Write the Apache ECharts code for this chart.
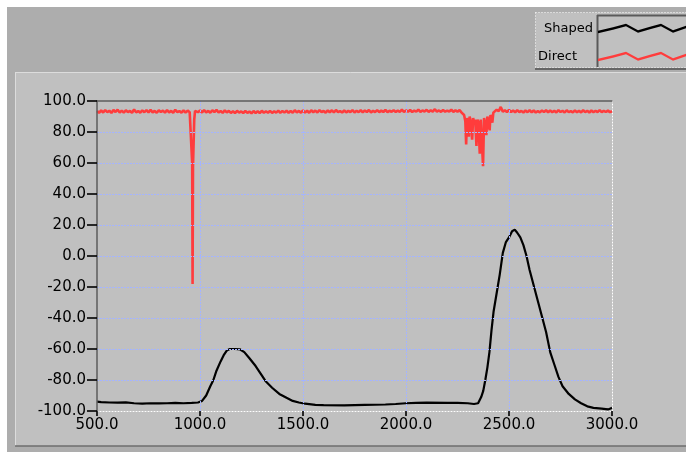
<!DOCTYPE html>
<html>
<head>
<meta charset="utf-8">
<script src="https://cdn.jsdelivr.net/npm/echarts@6/dist/echarts.min.js"></script>
<style>
html,body{margin:0;padding:0;background:#fff;}
#chart{width:686px;height:452px;}
</style>
</head>
<body>
<div id="chart"></div>
<script>
// ---- Data ----
var seriesNames = ['Shaped', 'Direct'];
var xTicks = [500, 1000, 1500, 2000, 2500, 3000];
var yTicks = [-100, -80, -60, -40, -20, 0, 20, 40, 60, 80, 100];

var shapedPoints = [
  [500,-94.0],[520,-94.3],[560,-94.5],[600,-94.6],[640,-94.4],[680,-95.0],[720,-95.2],
  [760,-95.0],[800,-95.1],[840,-95.0],[880,-94.8],[920,-95.0],[960,-94.8],[990,-94.5],
  [1010,-93.5],[1030,-90],[1050,-84],[1065,-80],[1080,-74],[1100,-68],[1115,-64],
  [1130,-61],[1145,-60],[1170,-60],[1195,-60.3],[1215,-62],[1240,-66],[1270,-71],
  [1300,-77],[1320,-81],[1350,-85],[1385,-89],[1420,-91.5],[1450,-93.5],[1480,-94.5],
  [1510,-95.3],[1560,-96],[1600,-96.2],[1700,-96.4],[1800,-96],[1900,-95.8],[1950,-95.5],
  [2000,-95],[2050,-94.8],[2100,-94.6],[2200,-94.7],[2250,-94.7],[2300,-95],[2330,-95.5],
  [2350,-95],[2365,-91],[2375,-87],[2385,-80],[2395,-72],[2405,-62],[2415,-48],[2425,-36],
  [2440,-24],[2455,-12],[2470,2],[2485,9],[2500,12],[2515,16],[2528,17],[2540,15],
  [2555,12],[2570,7],[2585,0],[2600,-9],[2620,-19],[2640,-29],[2660,-39],[2680,-49],
  [2700,-62],[2720,-70],[2740,-78],[2760,-84],[2790,-89],[2820,-92.5],[2850,-95],
  [2880,-97],[2910,-98],[2950,-98.5],[2980,-99],[2990,-98.5],[3000,-98]
];

var directPoints = [
  [500,93.6],[510,92.4],[520,93.9],[530,92.6],[540,94.1],[550,92.8],[560,93.7],[570,92.3],
  [580,94.2],[590,92.9],[600,94.4],[610,92.6],[620,93.8],[630,92.5],[640,94.0],[650,92.8],
  [660,93.6],[670,92.4],[680,94.5],[690,92.7],[700,93.5],[710,92.5],[720,93.9],[730,92.8],
  [740,94.1],[750,92.6],[760,94.3],[770,92.7],[780,93.6],[790,92.4],[800,94.0],[810,92.9],
  [820,93.8],[830,92.5],[840,94.2],[850,92.7],[860,93.6],[870,92.4],[880,94.3],[890,92.8],
  [900,93.5],[910,92.5],[920,93.9],[930,92.6],[940,93.8],[950,92.7],
  [958,92.8],[962,60],[964,-18],[966,57.5],[969,58],[972,88],[976,93.6],
  [980,94.6],[990,92.8],[1000,93.9],[1010,92.6],[1020,94.1],[1030,92.7],[1040,93.6],
  [1050,92.5],[1060,94.0],[1070,92.8],[1080,94.3],[1090,92.6],[1100,93.5],[1110,92.4],
  [1120,93.9],[1130,92.7],[1140,93.6],[1150,92.3],[1160,93.4],[1170,92.2],[1180,93.7],
  [1190,92.5],[1200,93.3],[1210,92.2],[1220,93.6],[1230,92.4],[1240,93.2],[1250,92.1],
  [1260,93.5],[1270,92.3],[1280,93.4],[1290,92.2],[1300,93.7],[1310,92.4],[1320,93.3],
  [1330,92.5],[1340,93.6],[1350,92.3],[1360,93.4],[1370,92.5],[1380,93.8],[1390,92.4],
  [1400,93.5],[1410,92.6],[1420,93.7],[1430,92.4],[1440,93.6],[1450,92.5],[1460,94.0],
  [1470,92.7],[1480,93.6],[1490,92.5],[1500,93.9],[1510,92.6],[1520,93.7],[1530,92.4],
  [1540,94.0],[1550,92.7],[1560,93.8],[1570,92.6],[1580,94.1],[1590,92.8],[1600,93.6],
  [1610,92.5],[1620,93.9],[1630,92.7],[1640,94.0],[1650,92.6],[1660,94.2],[1670,92.8],
  [1680,93.5],[1690,92.6],[1700,93.9],[1710,92.7],[1720,93.6],[1730,92.8],[1740,94.1],
  [1750,92.6],[1760,93.7],[1770,92.8],[1780,94.0],[1790,92.7],[1800,93.8],[1810,92.9],
  [1820,94.2],[1830,92.7],[1840,93.6],[1850,92.9],[1860,94.1],[1870,92.8],[1880,93.8],
  [1890,92.9],[1900,94.3],[1910,92.8],[1920,93.7],[1930,93.0],[1940,94.1],[1950,92.9],
  [1960,93.8],[1970,93.0],[1980,94.4],[1990,92.9],[2000,93.9],[2010,93.1],[2020,94.2],
  [2030,92.9],[2040,93.8],[2050,93.1],[2060,94.5],[2070,93.0],[2080,93.9],[2090,93.2],
  [2100,94.3],[2110,93.0],[2120,94.0],[2130,93.2],[2140,94.7],[2150,93.1],[2160,93.9],
  [2170,93.0],[2180,94.2],[2190,93.1],[2200,93.8],[2210,93.2],[2220,94.4],[2230,93.0],
  [2240,94.0],[2250,93.1],[2260,94.1],[2270,92.5],
  [2282,91],[2288,87],[2292,72],[2296,89],[2300,86],[2305,77],[2309,90],[2314,87],
  [2318,88],[2321,75],[2326,89],[2331,86],[2336,88],[2342,71],[2347,88],[2352,86],
  [2358,66],[2363,88],[2368,87],[2374,58],[2379,89],[2384,86],[2390,78],[2395,90],
  [2400,87],[2406,81],[2410,91],[2415,89],[2419,86],[2424,92.5],
  [2430,93.2],[2440,94.4],[2450,93.4],[2460,96.2],[2470,93.1],[2480,94.0],[2490,92.8],
  [2500,94.3],[2510,92.9],[2520,93.8],[2530,92.7],[2540,94.1],[2550,92.8],[2560,93.6],
  [2570,92.6],[2580,93.9],[2590,92.8],[2600,94.0],[2610,92.7],[2620,93.9],[2630,92.6],
  [2640,93.5],[2650,92.7],[2660,93.8],[2670,92.9],[2680,94.0],[2690,92.7],[2700,93.9],
  [2710,92.8],[2720,93.6],[2730,92.7],[2740,94.1],[2750,92.9],[2760,93.7],[2770,92.6],
  [2780,94.0],[2790,92.8],[2800,93.5],[2810,92.7],[2820,93.9],[2830,92.8],[2840,93.6],
  [2850,92.7],[2860,94.0],[2870,92.8],[2880,93.7],[2890,92.6],[2900,93.9],[2910,92.8],
  [2920,93.6],[2930,92.9],[2940,94.1],[2950,92.8],[2960,93.7],[2970,92.9],[2980,93.8],
  [2990,92.8],[3000,93.4]
];

// ---- Chart ----
var chart = echarts.init(document.getElementById('chart'), null, {renderer: 'canvas'});
var FONT = 'DejaVu Sans';
var zig = 'path://M0,8L15,4.5L28,1L40,7.5L52,4L63,1L75,7.5L88,3L88,5.5L75,10L63,3.5L52,6.5L40,10L28,3.5L15,7L0,10.5Z';

var xMin = xTicks[0], xMax = xTicks[xTicks.length - 1];
var yMin = yTicks[0], yMax = yTicks[yTicks.length - 1];
var gridLine = {show: true, showMinLine: false, showMaxLine: false,
  lineStyle: {color: '#a4b4ff', width: 1, type: [2, 1]}};

var option = {
  backgroundColor: '#ffffff',
  animation: false,
  graphic: [
    {type: 'rect', z: -10, shape: {x: 7, y: 7, width: 679, height: 445}, style: {fill: '#adadad'}},
    {type: 'rect', z: -10, shape: {x: 15, y: 72, width: 671, height: 374}, style: {fill: '#c0c0c0'}},
    {type: 'line', z: -10, shape: {x1: 15, y1: 72.5, x2: 686, y2: 72.5}, style: {stroke: '#dcdcdc', lineWidth: 1}},
    {type: 'line', z: -10, shape: {x1: 15.5, y1: 72, x2: 15.5, y2: 446}, style: {stroke: '#dcdcdc', lineWidth: 1}},
    {type: 'line', z: -10, shape: {x1: 15, y1: 446, x2: 686, y2: 446}, style: {stroke: '#6e6e6e', lineWidth: 1.5}},
    {type: 'rect', z: -10, shape: {x: 535.5, y: 12.5, width: 160, height: 55}, style: {fill: '#c0c0c0', stroke: '#ffffff', lineWidth: 1, lineDash: [1, 2]}},
    {type: 'line', z: -10, shape: {x1: 535, y1: 69, x2: 686, y2: 69}, style: {stroke: '#666666', lineWidth: 2}},
    {type: 'line', z: -10, shape: {x1: 597.5, y1: 15, x2: 597.5, y2: 67}, style: {stroke: '#5a5a5a', lineWidth: 2}},
    {type: 'line', z: -10, shape: {x1: 597, y1: 15.5, x2: 686, y2: 15.5}, style: {stroke: '#5a5a5a', lineWidth: 2}}
  ],
  legend: [
    {data: [seriesNames[0]], right: 0, top: 22, padding: 0, align: 'right', orient: 'vertical',
     icon: zig, itemWidth: 88, itemHeight: 9.5, selectedMode: false,
     itemStyle: {borderWidth: 0},
     textStyle: {fontFamily: FONT, fontSize: 13, color: '#000'}},
    {data: [seriesNames[1]], right: 0, top: 50, padding: 0, align: 'right', orient: 'vertical',
     icon: zig, itemWidth: 88, itemHeight: 9.5, selectedMode: false,
     itemStyle: {borderWidth: 0},
     textStyle: {fontFamily: FONT, fontSize: 13, color: '#000', padding: [0, 16, 0, 0]}}
  ],
  grid: {left: 97, right: 74, top: 101, bottom: 41, containLabel: false},
  xAxis: [
    {type: 'value', min: xMin, max: xMax, interval: 500, position: 'bottom', z: 5,
     axisLine: {show: true, onZero: false, lineStyle: {color: '#ffffff', width: 1, type: [1, 2]}},
     axisTick: {show: true, inside: false, length: 5, lineStyle: {color: '#000000', width: 1.6}},
     axisLabel: {margin: 7, fontFamily: FONT, fontSize: 15, color: '#000',
       formatter: function (v) { return v.toFixed(1); }},
     splitLine: gridLine},
    {type: 'value', min: xMin, max: xMax, interval: 500, position: 'top', z: 5,
     axisLine: {show: true, onZero: false, lineStyle: {color: '#5c5c5c', width: 1.5}},
     axisTick: {show: false}, axisLabel: {show: false}, splitLine: {show: false}}
  ],
  yAxis: [
    {type: 'value', min: yMin, max: yMax, interval: 20, position: 'left', z: 5,
     axisLine: {show: true, onZero: false, lineStyle: {color: '#5c5c5c', width: 1.5}},
     axisTick: {show: true, inside: false, length: 10, lineStyle: {color: '#000000', width: 1.6}},
     axisLabel: {margin: 11, fontFamily: FONT, fontSize: 15, color: '#000',
       formatter: function (v) { return v.toFixed(1); }},
     splitLine: gridLine},
    {type: 'value', min: yMin, max: yMax, interval: 20, position: 'right', z: 5,
     axisLine: {show: true, onZero: false, lineStyle: {color: '#ffffff', width: 1, type: [1, 2]}},
     axisTick: {show: false}, axisLabel: {show: false}, splitLine: {show: false}}
  ],
  series: [
    {name: seriesNames[0], type: 'line', xAxisIndex: 0, yAxisIndex: 0, data: shapedPoints,
     showSymbol: false, symbol: 'none', color: '#000000',
     lineStyle: {color: '#000000', width: 2.2}, z: 3},
    {name: seriesNames[1], type: 'line', xAxisIndex: 0, yAxisIndex: 0, data: directPoints,
     showSymbol: false, symbol: 'none', color: '#ff3c3c',
     lineStyle: {color: '#ff3c3c', width: 2.6}, z: 3}
  ]
};
chart.setOption(option);
</script>
</body>
</html>
